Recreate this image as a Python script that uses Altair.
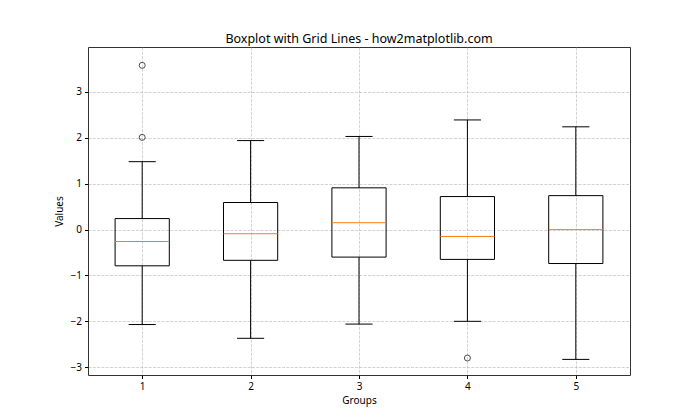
import altair as alt
import pandas as pd

groups = [1, 2, 3, 4, 5]
whisk_lo = [-2.07, -2.37, -2.06, -2.00, -2.83]
q1 = [-0.79, -0.67, -0.60, -0.65, -0.74]
med = [-0.26, -0.09, 0.15, -0.15, 0.00]
q3 = [0.24, 0.59, 0.91, 0.72, 0.74]
whisk_hi = [1.48, 1.94, 2.03, 2.39, 2.24]
out_group = [1, 1, 4]
out_val = [3.58, 2.01, -2.80]
y_ticks = [-3, -2, -1, 0, 1, 2, 3]

FONT = "Noto Sans"

box = pd.DataFrame({"g": groups, "lo": whisk_lo, "q1": q1, "med": med, "q3": q3, "hi": whisk_hi})
outl = pd.DataFrame({"g": out_group, "v": out_val})

xscale = alt.Scale(domain=[0.5, 5.5], nice=False, zero=False)
yscale = alt.Scale(domain=[-3.17, 3.98], nice=False, zero=False)

xaxis = alt.Axis(values=groups, format="d", title="Groups", grid=True)
yaxis = alt.Axis(values=y_ticks, format="d", title="Values", grid=True)

base = alt.Chart(box).transform_calculate(
    bl="datum.g - 0.25", br="datum.g + 0.25",
    cl="datum.g - 0.125", cr="datum.g + 0.125",
)

whisk_lower = base.mark_rule(color="black", strokeWidth=1).encode(
    x=alt.X("g:Q", scale=xscale, axis=xaxis),
    y=alt.Y("lo:Q", scale=yscale, axis=yaxis),
    y2="q1:Q",
)
whisk_upper = base.mark_rule(color="black", strokeWidth=1).encode(
    x=alt.X("g:Q", scale=xscale), y=alt.Y("q3:Q", scale=yscale), y2="hi:Q"
)
cap_lo = base.mark_rule(color="black", strokeWidth=1).encode(
    x=alt.X("cl:Q", scale=xscale), x2="cr:Q", y=alt.Y("lo:Q", scale=yscale)
)
cap_hi = base.mark_rule(color="black", strokeWidth=1).encode(
    x=alt.X("cl:Q", scale=xscale), x2="cr:Q", y=alt.Y("hi:Q", scale=yscale)
)
rect = base.mark_rect(fill="white", fillOpacity=0, stroke="black", strokeWidth=1).encode(
    x=alt.X("bl:Q", scale=xscale), x2="br:Q", y=alt.Y("q1:Q", scale=yscale), y2="q3:Q"
)
median = base.mark_rule(color="#ff7f0e", strokeWidth=1).encode(
    x=alt.X("bl:Q", scale=xscale), x2="br:Q", y=alt.Y("med:Q", scale=yscale)
)
fliers = alt.Chart(outl).mark_point(shape="circle", filled=False, color="black", size=36, strokeWidth=1).encode(
    x=alt.X("g:Q", scale=xscale), y=alt.Y("v:Q", scale=yscale)
)

chart = alt.layer(whisk_lower, whisk_upper, cap_lo, cap_hi, rect, median, fliers).properties(
    width=542, height=328,
    title=alt.TitleParams("Boxplot with Grid Lines - how2matplotlib.com", font=FONT, fontSize=12.5,
                          fontWeight="normal", color="black", offset=2),
    autosize="none",
    padding={"left": 88, "top": 47, "right": 70, "bottom": 45},
).configure_view(stroke="#333333", strokeWidth=1).configure_axis(
    labelFont=FONT, titleFont=FONT, labelFontSize=10, titleFontSize=10,
    titleFontWeight="normal", labelColor="black", titleColor="black",
    tickColor="black", tickSize=3.5, labelPadding=3, domain=False,
    gridColor="#b0b0b0", gridOpacity=0.7, gridDash=[3, 1.3], gridWidth=0.8,
    zindex=1,
).configure_axisX(titlePadding=4).configure_axisY(titlePadding=6)

chart.save("out.html", embed_options={"renderer": "svg", "actions": False})
